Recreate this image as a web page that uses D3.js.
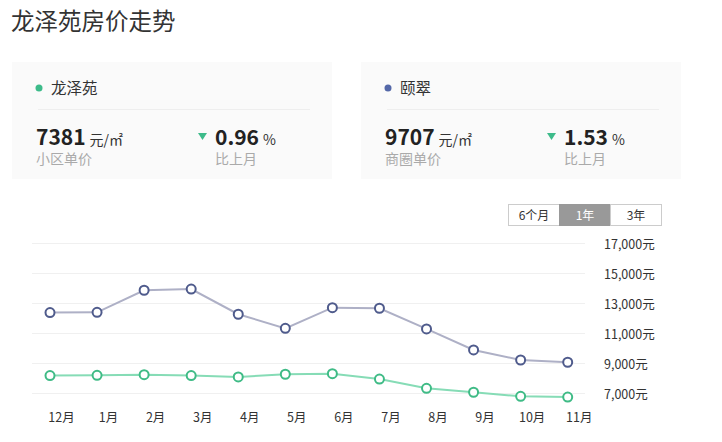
<!DOCTYPE html>
<html>
<head>
<meta charset="utf-8">
<script src="https://cdn.jsdelivr.net/npm/d3@7"></script>
<style>
  body { margin: 0; background: #fff; }
  svg { display: block; font-family: "Noto Sans CJK SC", "Noto Sans", sans-serif; }
</style>
</head>
<body>
<svg id="chart" width="722" height="442"></svg>
<script>
// data
var months = ["12月", "1月", "2月", "3月", "4月", "5月", "6月", "7月", "8月", "9月", "10月", "11月"];
var longzeyuan = [8180, 8200, 8240, 8180, 8090, 8270, 8310, 7950, 7330, 7070, 6800, 6750];
var yicui = [12380, 12400, 13870, 13950, 12270, 11330, 12710, 12670, 11290, 9890, 9220, 9070];
var yTicks = [7000, 9000, 11000, 13000, 15000, 17000];
var ranges = ["6个月", "1年", "3年"];
var cards = [
  { name: "龙泽苑", price: "7381", label: "小区单价", change: "0.96", color: "#3dbb8a" },
  { name: "颐翠", price: "9707", label: "商圈单价", change: "1.53", color: "#5468a8" }
];

var svg = d3.select("#chart");

svg.append("text")
  .attr("x", 11).attr("y", 30)
  .attr("font-size", 23.5).attr("fill", "#333")
  .text("龙泽苑房价走势");

/* summary cards */
var cardX = [12, 361];
cards.forEach(function(c, i) {
  var g = svg.append("g").attr("transform", "translate(" + cardX[i] + ",62)");
  g.append("rect").attr("width", 320).attr("height", 117).attr("fill", "#fafafa");
  g.append("circle").attr("cx", 27).attr("cy", 26).attr("r", 3.5).attr("fill", c.color);
  g.append("text").attr("x", 39).attr("y", 32).attr("font-size", 15.5).attr("fill", "#333").text(c.name);
  g.append("line").attr("x1", 26).attr("x2", 298).attr("y1", 47.5).attr("y2", 47.5)
    .attr("stroke", "#eeeeee");
  var t = g.append("text").attr("x", 24).attr("y", 82.5).attr("fill", "#222");
  t.append("tspan").attr("font-size", 21).attr("font-weight", "bold").text(c.price);
  t.append("tspan").attr("font-size", 14).attr("dx", 4).attr("fill", "#333").text("元/㎡");
  g.append("text").attr("x", 24).attr("y", 101.5).attr("font-size", 14).attr("fill", "#aaa").text(c.label);
  g.append("path").attr("d", "M186,71 L195,71 L190.5,78 Z").attr("fill", "#3dbb8a");
  var p = g.append("text").attr("x", 203).attr("y", 82.5).attr("fill", "#222");
  p.append("tspan").attr("font-size", 21).attr("font-weight", "bold").text(c.change);
  p.append("tspan").attr("font-size", 14).attr("dx", 4).attr("fill", "#333").text("%");
  g.append("text").attr("x", 203).attr("y", 101.5).attr("font-size", 14).attr("fill", "#aaa").text("比上月");
});

/* range toggle */
var btn = svg.append("g").attr("transform", "translate(508,204)");
ranges.forEach(function(r, i) {
  var active = r == "1年";
  btn.append("rect").attr("x", i * 51 + 0.5).attr("y", 0.5).attr("width", 51).attr("height", 21)
    .attr("fill", active ? "#999" : "#fff").attr("stroke", active ? "#999" : "#ccc");
  btn.append("text").attr("x", i * 51 + 26).attr("y", 15.5).attr("text-anchor", "middle")
    .attr("font-size", 12).attr("fill", active ? "#fff" : "#333").text(r);
});

/* chart */
var x = d3.scalePoint().domain(months).range([50, 567.7]);
var y = d3.scaleLinear().domain([7000, 17000]).range([393.3, 243.3]);

svg.append("g").selectAll("line").data(yTicks).enter().append("line")
  .attr("x1", 32).attr("x2", 585)
  .attr("y1", function(d) { return Math.round(y(d)) + 0.5; })
  .attr("y2", function(d) { return Math.round(y(d)) + 0.5; })
  .attr("stroke", "#f0f0f0");

var yAxis = d3.axisRight(y).tickValues(yTicks).tickSize(0).tickPadding(0)
  .tickFormat(function(d) { return d3.format(",")(d) + "元"; });
svg.append("g").attr("class", "y-axis").attr("transform", "translate(604,1)").call(yAxis)
  .call(function(g) { g.select(".domain").remove(); })
  .selectAll("text").attr("font-size", 12.5).attr("fill", "#333")
  .attr("font-family", "\"Noto Sans CJK SC\", sans-serif");

var xAxis = d3.axisBottom(x).tickSize(0).tickPadding(0);
svg.append("g").attr("class", "x-axis").attr("transform", "translate(11,413)").call(xAxis)
  .call(function(g) { g.select(".domain").remove(); })
  .selectAll("text").attr("font-size", 12.5).attr("fill", "#333")
  .attr("font-family", "\"Noto Sans CJK SC\", sans-serif");

var line = d3.line().x(function(d, i) { return x(months[i]); }).y(function(d) { return y(d); });

var series = [
  { values: yicui, line: "#aeb0c6", point: "#4f5b8c" },
  { values: longzeyuan, line: "#86dcb6", point: "#3fbb86" }
];
series.forEach(function(s) {
  svg.append("path").datum(s.values).attr("d", line)
    .attr("fill", "none").attr("stroke", s.line).attr("stroke-width", 2);
  svg.append("g").selectAll("circle").data(s.values).enter().append("circle")
    .attr("cx", function(d, i) { return x(months[i]); })
    .attr("cy", function(d) { return y(d); })
    .attr("r", 4.5).attr("fill", "#fff")
    .attr("stroke", s.point).attr("stroke-width", 2);
});
</script>
</body>
</html>
